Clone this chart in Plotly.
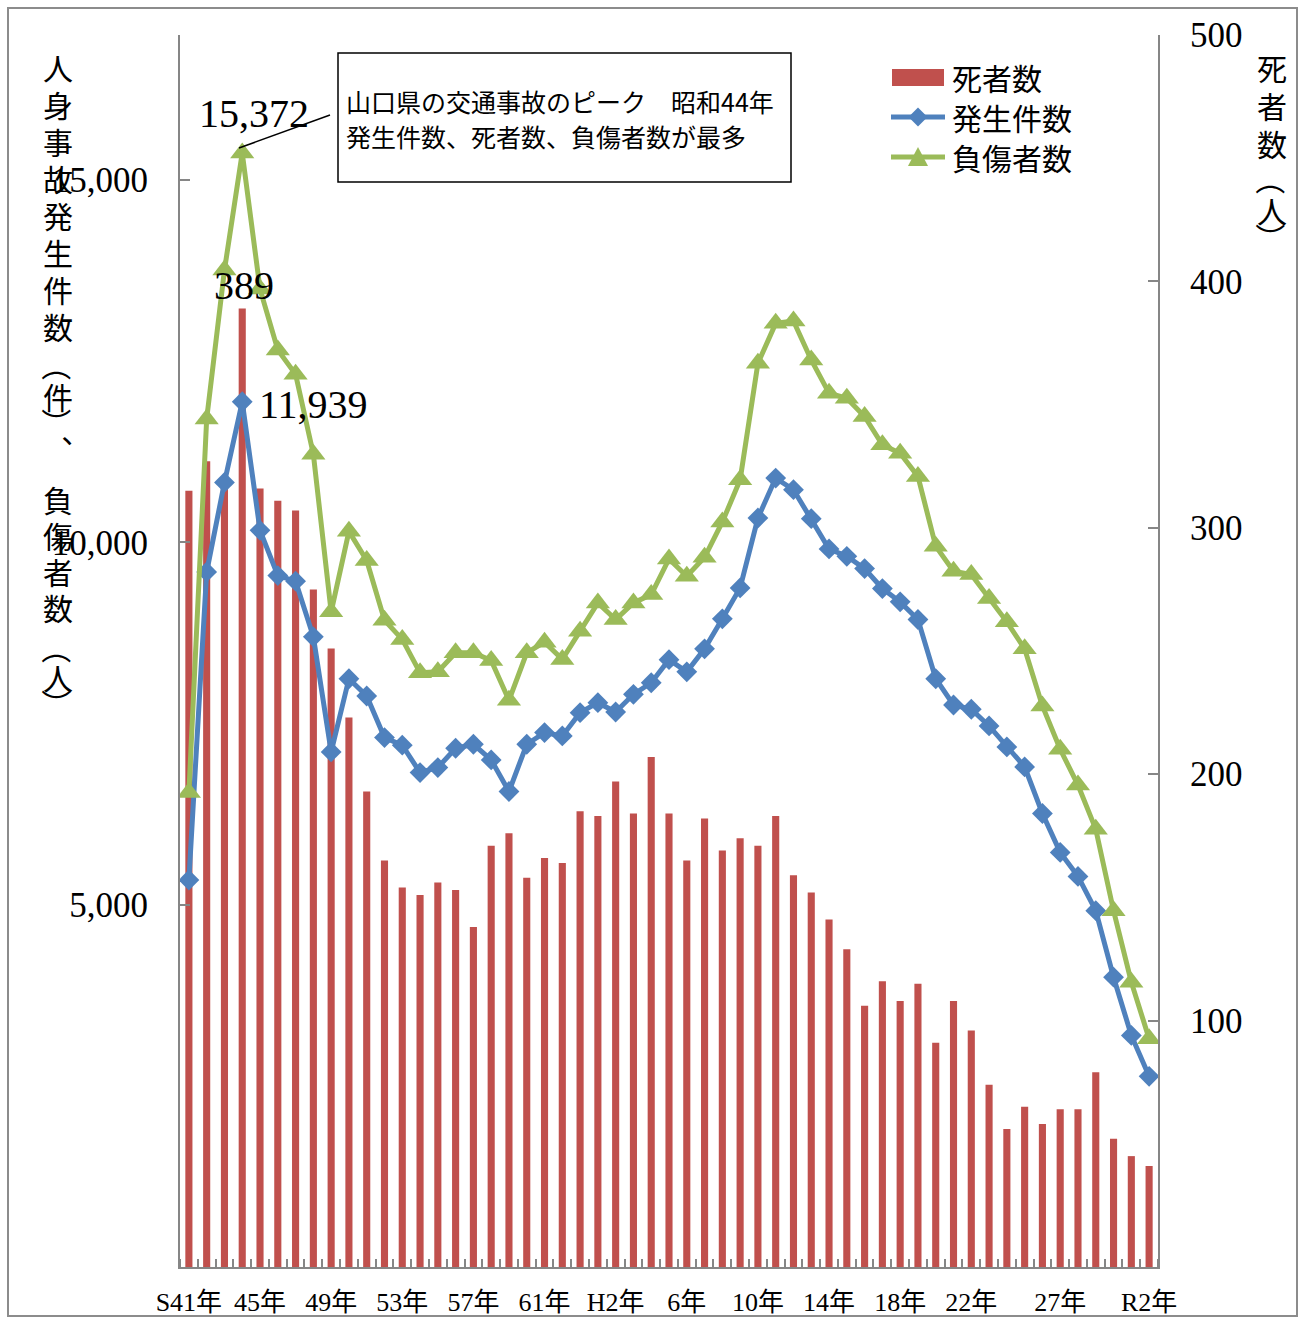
import plotly.graph_objects as go

# ---------------- data ----------------
categories = (["S%d" % y for y in range(41, 64)] + ["H%d" % y for y in range(1, 31)]
              + ["R1", "R2"])
tick_labels = ["S41年", "45年", "49年", "53年", "57年", "61年", "H2年", "6年",
               "10年", "14年", "18年", "22年", "27年", "R2年"]
tick_cats = ["S41", "S45", "S49", "S53", "S57", "S61", "H2", "H6",
             "H10", "H14", "H18", "H22", "H27", "R2"]

deaths = [315, 327, 320, 389, 316, 311, 307, 275, 251, 223, 193, 165, 154, 151, 156,
          153, 138, 171, 176, 158, 166, 164, 185, 183, 197, 184, 207, 184, 165, 182,
          169, 174, 171, 183, 159, 152, 141, 129, 106, 116, 108, 115, 91, 108, 96,
          74, 56, 65, 58, 64, 64, 79, 52, 45, 41]
accidents = [5340, 9591, 10826, 11939, 10165, 9541, 9463, 8696, 7107, 8117, 7879, 7305,
             7200, 6823, 6892, 7158, 7213, 6997, 6561, 7213, 7374, 7328, 7649, 7787,
             7658, 7902, 8062, 8380, 8213, 8530, 8944, 9371, 10335, 10886, 10726, 10326,
             9908, 9807, 9637, 9362, 9178, 8935, 8117, 7755, 7696, 7466, 7176, 6901,
             6258, 5721, 5390, 4917, 3999, 3196, 2631]
injuries = [6547, 11703, 13756, 15372, 13494, 12654, 12318, 11216, 9040, 10151, 9748,
            8925, 8660, 8200, 8213, 8475, 8475, 8370, 7820, 8475, 8622, 8384, 8774,
            9164, 8935, 9164, 9279, 9770, 9532, 9793, 10280, 10863, 12470, 13021, 13053,
            12516, 12057, 11988, 11736, 11345, 11230, 10909, 9945, 9601, 9555, 9224,
            8902, 8530, 7741, 7144, 6650, 6042, 4917, 3930, 3150]

series_names = ["死者数", "発生件数", "負傷者数"]
left_title = "人身事故発生件数（件）︑負傷者数（人）"
right_title = "死者数（人）"
note_lines = ["山口県の交通事故のピーク　昭和44年", "発生件数、死者数、負傷者数が最多"]

# ---------------- layout helpers ----------------
W, H = 1303, 1318
L, R, T, B = 180, 1158, 35, 1267


def px(x):
    return (x - L) / (R - L)


def py(y):
    return (B - y) / (B - T)


xs = list(range(len(categories)))
RED, BLUE, GREEN, GREY = "#C0504D", "#4F81BD", "#9BBB59", "#868686"
NUMFONT = "Liberation Serif, Noto Sans CJK JP, serif"
JPFONT = "Noto Sans CJK JP, sans-serif"

fig = go.Figure()
fig.add_trace(go.Bar(x=xs, y=deaths, name=series_names[0], marker_color=RED,
                     marker_line_width=0, width=0.4, yaxis="y"))
fig.add_trace(go.Scatter(x=xs, y=accidents, name=series_names[1], mode="lines+markers",
                         line=dict(color=BLUE, width=5),
                         marker=dict(symbol="diamond", size=16, color=BLUE),
                         yaxis="y2"))
fig.add_trace(go.Scatter(x=xs, y=injuries, name=series_names[2], mode="lines+markers",
                         line=dict(color=GREEN, width=5),
                         marker=dict(symbol="triangle-up", size=21, color=GREEN),
                         yaxis="y2"))

tickvals = [categories.index(c) for c in tick_cats]

fig.update_layout(
    width=W, height=H, autosize=False,
    margin=dict(l=L, r=W - R, t=T, b=H - B, pad=0, autoexpand=False),
    paper_bgcolor="white", plot_bgcolor="white",
    showlegend=False,
    xaxis=dict(range=[-0.5, len(categories) - 0.5], tickmode="array",
               tickvals=tickvals, ticktext=tick_labels, ticks="",
               tickfont=dict(family=NUMFONT, size=26, color="black"),
               ticklabelstandoff=11, automargin=False,
               showline=True, linecolor=GREY, linewidth=2,
               showgrid=False, zeroline=False,
               minor=dict(tickmode="linear", tick0=-0.5, dtick=1, ticks="inside",
                          ticklen=8, tickcolor=GREY, tickwidth=1.5, showgrid=False)),
    yaxis=dict(side="right", range=[0, 500], tickmode="array",
               tickvals=[100, 200, 300, 400, 500],
               ticks="inside", ticklen=10, tickcolor=GREY, tickwidth=2,
               tickfont=dict(family=NUMFONT, size=35, color="black"),
               ticklabelstandoff=23, automargin=False,
               showline=True, linecolor=GREY, linewidth=2,
               showgrid=False, zeroline=False),
    yaxis2=dict(side="left", overlaying="y", range=[0, 17000], tickmode="array",
                tickvals=[5000, 10000, 15000],
                ticktext=[f"{v:,}" for v in [5000, 10000, 15000]],
                ticks="inside", ticklen=10, tickcolor=GREY, tickwidth=2,
                tickfont=dict(family=NUMFONT, size=35, color="black"),
                ticklabelstandoff=23, automargin=False,
                showline=True, linecolor=GREY, linewidth=2,
                showgrid=False, zeroline=False),
)

annotations = []
# data labels at the peak year
ipk = injuries.index(max(injuries))
annotations.append(dict(x=ipk, y=injuries[ipk], xref="x", yref="y2",
                        text=f"{injuries[ipk]:,}", showarrow=False,
                        xshift=12, yshift=39,
                        font=dict(family=NUMFONT, size=40, color="black")))
idk = deaths.index(max(deaths))
annotations.append(dict(x=idk, y=deaths[idk], xref="x", yref="y",
                        text=f"{deaths[idk]}", showarrow=False,
                        xshift=2, yshift=23,
                        font=dict(family=NUMFONT, size=40, color="black")))
iak = accidents.index(max(accidents))
annotations.append(dict(x=iak, y=accidents[iak], xref="x", yref="y2",
                        text=f"{accidents[iak]:,}", showarrow=False,
                        xanchor="left", xshift=15, yshift=-3,
                        font=dict(family=NUMFONT, size=40, color="black")))

# note box text
for line, yy in zip(note_lines, [101, 136]):
    annotations.append(dict(x=px(344), y=py(yy), xref="paper", yref="paper",
                            text=line, showarrow=False, xanchor="left", yanchor="middle",
                            font=dict(family=JPFONT, size=25, color="black")))


def vertical_title(text, ys, xc, size=30, off=6):
    # one glyph per row; brackets are turned 90° as in vertical Japanese text
    for ch, yy in zip(text, ys):
        ang = 0
        if ch == "（":
            ang, yy = 90, yy - off
        elif ch == "）":
            ang, yy = 90, yy + off
        annotations.append(dict(x=px(xc), y=py(yy), xref="paper", yref="paper",
                                text=ch, showarrow=False, textangle=ang,
                                xanchor="center", yanchor="middle",
                                font=dict(family=JPFONT, size=size, color="black")))


vertical_title(left_title, [67, 104, 141, 178, 215, 252, 289, 326, 372, 396, 417, 449,
                            499, 535, 571, 607, 655, 677, 698], 58)
vertical_title(right_title, [67, 105, 143, 186, 210, 232], 1272)

shapes = [
    # outer chart border
    dict(type="rect", xref="paper", yref="paper", x0=px(8), x1=px(1297),
         y0=py(1316), y1=py(8), line=dict(color="#8c8c8c", width=2), layer="below"),
    # note box
    dict(type="rect", xref="paper", yref="paper", x0=px(338), x1=px(791),
         y0=py(182), y1=py(53), line=dict(color="black", width=1.5),
         fillcolor="white"),
    # callout line
    dict(type="line", xref="paper", yref="paper", x0=px(239), y0=py(148),
         x1=px(330), y1=py(115), line=dict(color="black", width=1.5)),
]

# ---------------- legend (drawn) ----------------
leg_y = [77, 117, 157]
shapes.append(dict(type="rect", xref="paper", yref="paper", x0=px(892), x1=px(944),
                   y0=py(86), y1=py(69), line=dict(width=0), fillcolor=RED))
for yy, col in zip(leg_y[1:], [BLUE, GREEN]):
    shapes.append(dict(type="line", xref="paper", yref="paper", x0=px(891), x1=px(945),
                       y0=py(yy), y1=py(yy), line=dict(color=col, width=5)))
cx, cy = 918, leg_y[1]
shapes.append(dict(type="path", xref="paper", yref="paper",
                   path=(f"M{px(cx-9.5)},{py(cy)} L{px(cx)},{py(cy-9.5)} "
                         f"L{px(cx+9.5)},{py(cy)} L{px(cx)},{py(cy+9.5)} Z"),
                   line=dict(width=0), fillcolor=BLUE))
cx, cy = 918, leg_y[2]
shapes.append(dict(type="path", xref="paper", yref="paper",
                   path=(f"M{px(cx-10)},{py(cy+9)} L{px(cx)},{py(cy-10)} "
                         f"L{px(cx+10)},{py(cy+9)} Z"),
                   line=dict(width=0), fillcolor=GREEN))
for name, yy in zip(series_names, leg_y):
    annotations.append(dict(x=px(950), y=py(yy), xref="paper", yref="paper",
                            text=name, showarrow=False, xanchor="left", yanchor="middle",
                            font=dict(family=JPFONT, size=30, color="black")))

fig.update_layout(annotations=annotations, shapes=shapes)

fig.write_html("out.html", config={"displayModeBar": False},
               post_script="document.body.style.margin='0px';")
